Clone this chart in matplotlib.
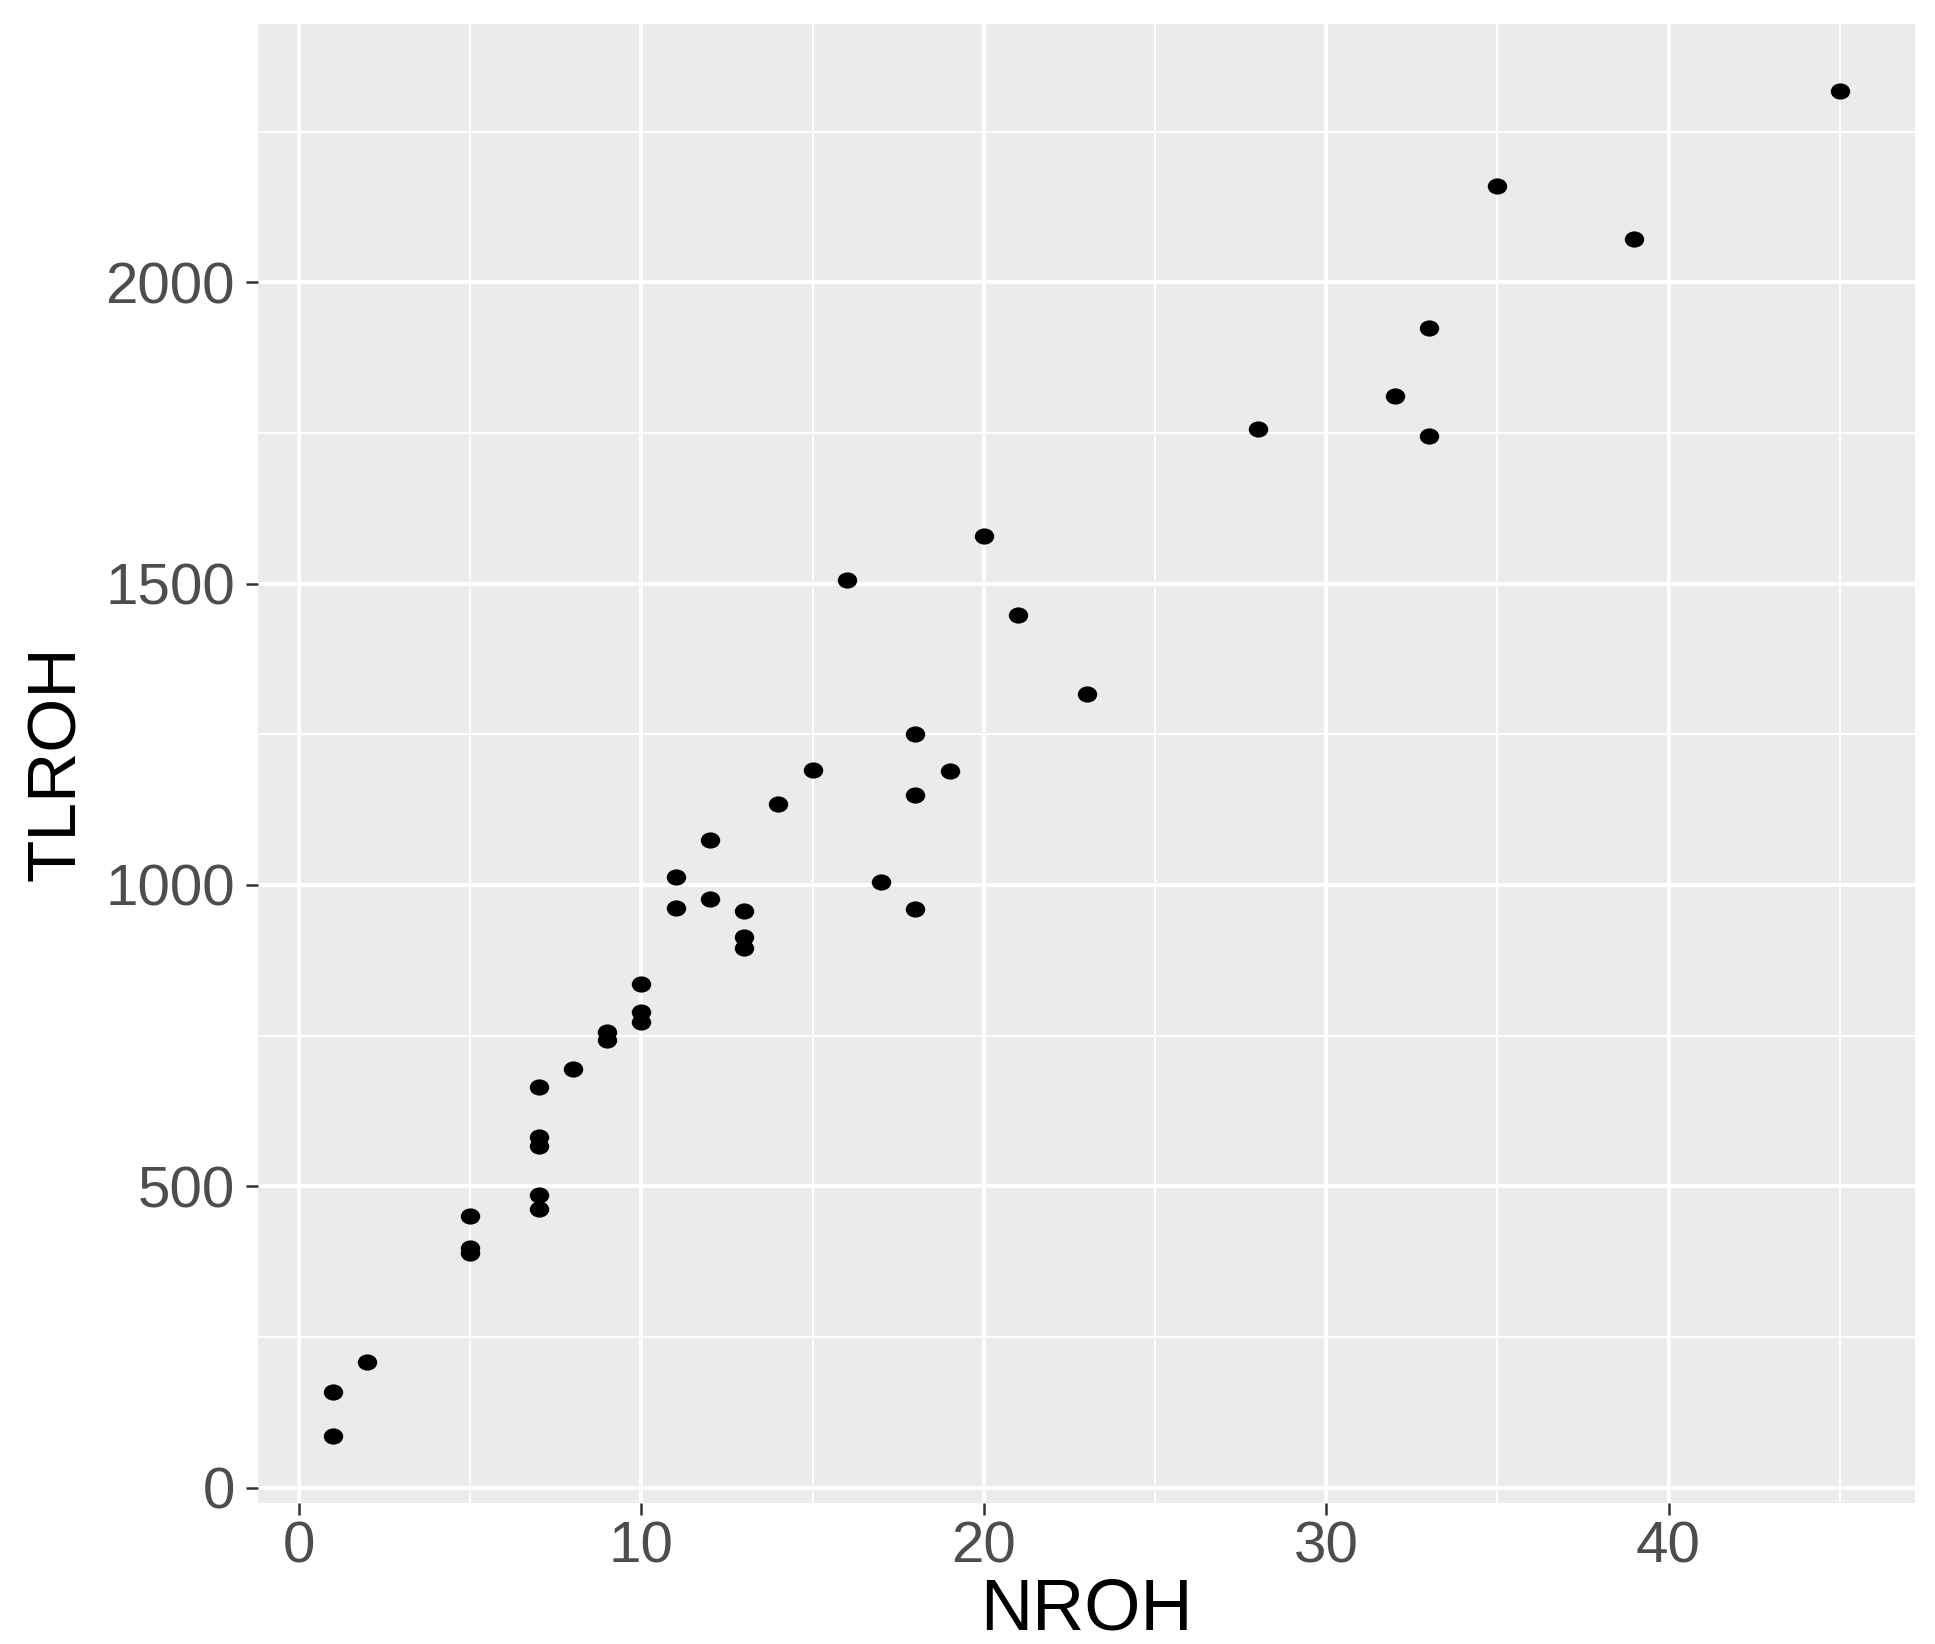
import matplotlib
matplotlib.use("Agg")
import matplotlib.pyplot as plt
import matplotlib.path as mpath
from matplotlib.transforms import Affine2D
import numpy as np

# NROH vs TLROH
nroh = [1, 1, 2, 5, 5, 5, 7, 7, 7, 7, 7, 8, 9, 9, 10, 10, 10,
        11, 11, 12, 12, 13, 13, 13, 14, 15, 16, 17, 18, 18, 18,
        19, 20, 21, 23, 28, 32, 33, 33, 35, 39, 45]
tlroh = [86, 159, 208, 451, 398, 390, 664, 582, 566, 486, 462, 695, 756, 742, 836, 789, 772,
         1013, 962, 1075, 977, 956, 913, 895, 1134, 1191, 1506, 1005, 1250, 1150, 960,
         1189, 1579, 1448, 1316, 1757, 1812, 1924, 1745, 2159, 2071, 2317]

x_ticks = [0, 10, 20, 30, 40]
y_ticks = [0, 500, 1000, 1500, 2000]

plt.rcParams['font.family'] = ['Liberation Sans', 'DejaVu Sans']

fig = plt.figure(figsize=(19.35, 16.44), dpi=100)
ax = fig.add_axes([0.1333, 0.0858, 0.8564, 0.8996])
ax.set_facecolor('#EBEBEB')

# slightly wide dots, like the stretched original
dot = mpath.Path.unit_circle().transformed(Affine2D().scale(1.2, 1.0))
ax.scatter(nroh, tlroh, marker=dot, s=14 ** 2, color='black', linewidths=0, zorder=3)

# ggplot-like 5% expansion
xr = max(nroh) - min(nroh)
yr = max(tlroh) - min(tlroh)
ax.set_xlim(min(nroh) - 0.05 * xr, max(nroh) + 0.05 * xr)
ax.set_ylim(min(tlroh) - 0.05 * yr, max(tlroh) + 0.05 * yr)

ax.set_xticks(x_ticks)
ax.set_yticks(y_ticks)
ax.set_xticks([5, 15, 25, 35, 45], minor=True)
ax.set_yticks([250, 750, 1250, 1750, 2250], minor=True)
ax.grid(which='major', color='white', linewidth=2.8)
ax.grid(which='minor', color='white', linewidth=1.4)
ax.set_axisbelow(True)
for s in ax.spines.values():
    s.set_visible(False)

ax.tick_params(which='major', length=8.5, width=1.8, color='#333333',
               labelsize=42, labelcolor='#4D4D4D')
ax.tick_params(axis='x', which='major', pad=4)
ax.tick_params(axis='y', which='major', pad=8)
ax.tick_params(which='minor', length=0)

ax.set_xlabel('NROH', fontsize=52, color='black', labelpad=2)
ax.set_ylabel('TLROH', fontsize=50, color='black', labelpad=12)

fig.savefig('out.png', dpi=100)
